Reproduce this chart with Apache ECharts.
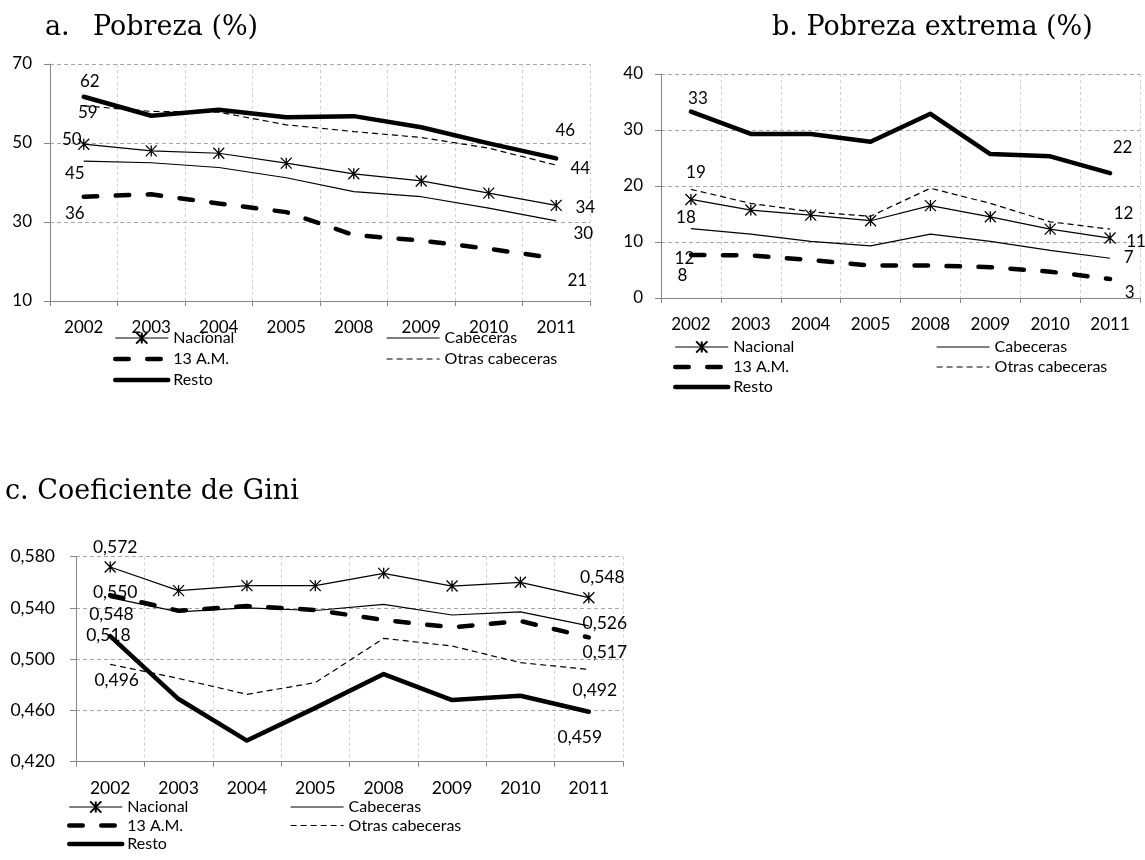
<!DOCTYPE html>
<html><head><meta charset="utf-8">
<script src="https://cdn.jsdelivr.net/npm/echarts@6/dist/echarts.min.js"></script>
<style>html,body{margin:0;padding:0;background:#fff}#c{width:1145px;height:860px}</style>
</head><body><div id="c"></div>
<script>
// ---------- DATA ----------
const years = ['2002', '2003', '2004', '2005', '2008', '2009', '2010', '2011'];
const seriesNames = ['Nacional', 'Cabeceras', '13 A.M.', 'Otras cabeceras', 'Resto'];

// a. Pobreza (%)
const pobNacional  = [49.7, 48.0, 47.4, 44.9, 42.2, 40.4, 37.3, 34.2];
const pobCabeceras = [45.4, 45.0, 43.8, 41.2, 37.7, 36.4, 33.5, 30.3];
const pob13AM      = [36.4, 37.0, 34.7, 32.5, 26.7, 25.3, 23.2, 20.8];
const pobOtras     = [59.4, 58.0, 57.8, 54.6, 52.9, 51.4, 48.7, 44.4];
const pobResto     = [61.7, 56.9, 58.4, 56.5, 56.8, 54.0, 49.9, 46.1];
const pobTicks     = [10, 30, 50, 70];

// b. Pobreza extrema (%)
const extNacional  = [17.6, 15.7, 14.8, 13.8, 16.5, 14.5, 12.3, 10.7];
const extCabeceras = [12.4, 11.4, 10.1, 9.3, 11.4, 10.1, 8.5, 7.1];
const ext13AM      = [7.7, 7.6, 6.8, 5.8, 5.8, 5.5, 4.7, 3.4];
const extOtras     = [19.4, 16.9, 15.4, 14.6, 19.6, 16.9, 13.6, 12.3];
const extResto     = [33.3, 29.3, 29.3, 27.9, 32.9, 25.7, 25.3, 22.3];
const extTicks     = [0, 10, 20, 30, 40];

// c. Coeficiente de Gini
const giniNacional  = [0.572, 0.5535, 0.5574, 0.5574, 0.567, 0.5571, 0.560, 0.548];
const giniCabeceras = [0.548, 0.537, 0.540, 0.538, 0.5428, 0.5345, 0.537, 0.526];
const gini13AM      = [0.550, 0.5378, 0.5415, 0.5384, 0.5306, 0.5249, 0.5298, 0.517];
const giniOtras     = [0.496, 0.485, 0.4726, 0.4817, 0.5163, 0.5103, 0.4973, 0.492];
const giniResto     = [0.518, 0.4689, 0.4365, 0.462, 0.4884, 0.4681, 0.4715, 0.459];
const giniTicks     = [0.42, 0.46, 0.50, 0.54, 0.58];

// ---------- STYLE ----------
const FONT = 'Lato';
const SERIF = 'DejaVu Serif';
const STAR = 'path://M0,0L12,12M12,0L0,12M6,0L6,12';
const seriesStyle = {
  'Nacional':        { symbol: STAR, symbolSize: 11, lineStyle: { color: '#000', width: 1.2 },
                       itemStyle: { color: 'rgba(0,0,0,0)', borderColor: '#000', borderWidth: 1.3 } },
  'Cabeceras':       { symbol: 'circle', symbolSize: 1, lineStyle: { color: '#000', width: 1.2 },
                       itemStyle: { color: 'rgba(0,0,0,0)' } },
  '13 A.M.':         { symbol: 'circle', symbolSize: 1, lineStyle: { color: '#000', width: 4.5, type: [13.5, 18.5], cap: 'round' },
                       itemStyle: { color: 'rgba(0,0,0,0)' } },
  'Otras cabeceras': { symbol: 'circle', symbolSize: 1, lineStyle: { color: '#000', width: 1.2, type: [6, 4] },
                       itemStyle: { color: 'rgba(0,0,0,0)' } },
  'Resto':           { symbol: 'circle', symbolSize: 1, lineStyle: { color: '#000', width: 4.5, join: 'round', cap: 'round' },
                       itemStyle: { color: 'rgba(0,0,0,0)' } }
};

const fmtInt = v => String(Math.round(v));
const fmtGini = v => v.toFixed(3).replace('.', ',');

const panels = [
  { grid: { left: 50, top: 64, width: 540, height: 237 }, ticks: pobTicks, fmt: fmtInt, yMargin: 18, xMargin: 18, fs: 17,
    data: [pobNacional, pobCabeceras, pob13AM, pobOtras, pobResto],
    offsets: { 'Nacional': [[-12, -5], [29, 2]], 'Cabeceras': [[-9, 12], [27, 13]], '13 A.M.': [[-9, 17], [21, 22]],
               'Otras cabeceras': [[4, 7], [24, 3]], 'Resto': [[6, -15], [9, -28]] },
    legend: { l1: 113, l2: 386, top: 330, gap: 5 } },
  { grid: { left: 661, top: 74, width: 479, height: 224 }, ticks: extTicks, fmt: fmtInt, yMargin: 18, xMargin: 18, fs: 17,
    data: [extNacional, extCabeceras, ext13AM, extOtras, extResto],
    offsets: { 'Nacional': [[-5, 18], [26, 3]], 'Cabeceras': [[-6.5, 30], [18.5, -1]], '13 A.M.': [[-8.5, 20.5], [19.5, 13.5]],
               'Otras cabeceras': [[5, -17], [13.5, -16]], 'Resto': [[7, -13], [12.5, -26]] },
    legend: { l1: 673, l2: 936, top: 339, gap: 4 } },
  { grid: { left: 76, top: 556.7, width: 547, height: 205 }, ticks: giniTicks, fmt: fmtGini, yMargin: 21, xMargin: 18, fs: 17.5,
    data: [giniNacional, giniCabeceras, gini13AM, giniOtras, giniResto],
    offsets: { 'Nacional': [[5, -20], [13.5, -20.5]], 'Cabeceras': [[1.3, 16.3], [16, -3]], '13 A.M.': [[5, -3], [16, 14.6]],
               'Otras cabeceras': [[6.5, 15.7], [6, 20.5]], 'Resto': [[-1.7, -1], [-9, 26]] },
    legend: { l1: 67, l2: 290, top: 799, gap: 2.5 } }
];

const grids = [], xAxes = [], yAxes = [], series = [], legends = [];
panels.forEach((p, pi) => {
  grids.push(Object.assign({ containLabel: false }, p.grid));
  xAxes.push({
    gridIndex: pi, type: 'category', data: years, boundaryGap: true,
    axisLine: { show: true, lineStyle: { color: '#868686', width: 1 } },
    axisTick: { show: true, length: 5, alignWithLabel: false, lineStyle: { color: '#868686' } },
    axisLabel: { margin: p.xMargin, fontFamily: FONT, fontSize: p.fs, color: '#000' },
    splitLine: { show: true, lineStyle: { color: '#d0d0d0', type: [3, 3], width: 1 } }
  });
  const t = p.ticks;
  yAxes.push({
    gridIndex: pi, type: 'value', min: t[0], max: t[t.length - 1], interval: +(t[1] - t[0]).toFixed(6),
    axisLine: { show: true, lineStyle: { color: '#868686', width: 1 } },
    axisTick: { show: true, length: 6, lineStyle: { color: '#868686' } },
    axisLabel: { margin: p.yMargin, fontFamily: FONT, fontSize: p.fs, color: '#000', formatter: p.fmt },
    splitLine: { show: true, lineStyle: { color: '#a6a6a6', type: [4, 3], width: 1 } }
  });
  seriesNames.forEach((name, si) => {
    const vals = p.data[si];
    const st = seriesStyle[name];
    const off = p.offsets[name];
    const data = vals.map((v, i) => {
      if (i === 0 || i === vals.length - 1) {
        return { value: v, label: { show: true, position: 'inside', offset: i === 0 ? off[0] : off[1] } };
      }
      return v;
    });
    series.push({
      type: 'line', name: name, xAxisIndex: pi, yAxisIndex: pi, data: data,
      symbol: st.symbol, symbolSize: st.symbolSize, showSymbol: true,
      lineStyle: st.lineStyle, itemStyle: st.itemStyle,
      label: { show: false, fontFamily: FONT, fontSize: p.fs, color: '#000', formatter: o => p.fmt(o.value) },
      emphasis: { disabled: true }, silent: true, z: 2 + si
    });
  });
  const L = p.legend;
  const common = { orient: 'vertical', top: L.top, itemWidth: 53, itemHeight: 14, itemGap: L.gap, padding: 0,
    selectedMode: false, textStyle: { fontFamily: FONT, fontSize: 16, color: '#000' },
    lineStyle: { width: 'inherit', type: 'inherit', cap: 'inherit', join: 'inherit' } };
  legends.push(Object.assign({}, common, { left: L.l1, data: ['Nacional', '13 A.M.', 'Resto'] }));
  legends.push(Object.assign({}, common, { left: L.l2, data: ['Cabeceras', 'Otras cabeceras'] }));
});

const titleStyle = { fontFamily: SERIF, fontSize: 27, fontWeight: 'normal', color: '#000' };
const option = {
  animation: false,
  backgroundColor: '#fff',
  title: [
    { text: 'a.', left: 45, top: 14, padding: 0, textStyle: titleStyle },
    { text: 'Pobreza (%)', left: 93, top: 14, padding: 0, textStyle: titleStyle },
    { text: 'b. Pobreza extrema (%)', left: 772, top: 14, padding: 0, textStyle: titleStyle },
    { text: 'c. Coeficiente de Gini', left: 5, top: 478, padding: 0, textStyle: titleStyle }
  ],
  legend: legends,
  grid: grids,
  xAxis: xAxes,
  yAxis: yAxes,
  series: series
};
const chart = echarts.init(document.getElementById('c'), null, { renderer: 'canvas' });
chart.setOption(option);
</script>
</body></html>
